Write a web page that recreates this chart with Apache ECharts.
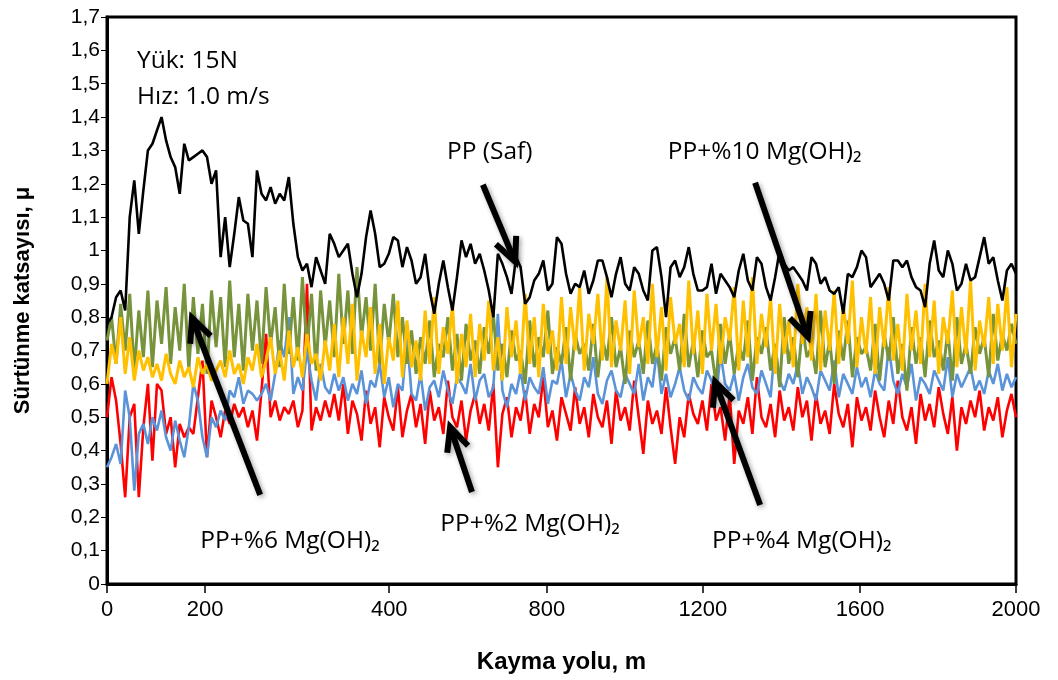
<!DOCTYPE html>
<html>
<head>
<meta charset="utf-8">
<script src="https://cdn.jsdelivr.net/npm/echarts@6/dist/echarts.min.js"></script>
<style>
  html, body { margin: 0; padding: 0; background: #fff; }
  #chart { width: 1058px; height: 680px; }
</style>
</head>
<body>
<div id="chart"></div>
<script>
// x-axis: labels sit at uneven places along the axis (as in the original figure)
var xTickPos = [0, 216, 621, 968, 1311, 1657, 2000];
var xTickLabels = ['0', '200', '400', '800', '1200', '1600', '2000'];
var sampleStep = 10; // axis units between two samples

// PP (Saf)
var ppSaf = [
  0.78,0.80,0.86,0.88,0.82,1.10,1.21,1.05,1.18,1.30,
  1.32,1.36,1.40,1.33,1.28,1.25,1.17,1.32,1.27,1.28,
  1.29,1.30,1.28,1.20,1.24,0.98,1.10,0.95,1.05,1.16,
  1.09,1.08,0.98,1.24,1.17,1.15,1.19,1.14,1.17,1.15,
  1.22,1.08,0.98,0.94,0.96,0.89,0.98,0.94,0.90,1.05,
  1.02,0.98,1.00,1.02,0.93,0.86,0.93,1.04,1.12,1.05,
  0.95,0.96,0.99,1.04,1.03,0.95,1.01,0.97,0.90,0.92,
  0.99,0.88,0.81,0.90,0.97,0.89,0.82,0.92,1.03,0.98,
  1.02,0.96,0.99,0.94,0.88,0.80,0.99,0.96,0.92,0.87,
  0.98,0.95,0.84,0.86,0.91,0.93,0.97,0.88,0.90,1.04,
  1.02,0.93,0.87,0.90,0.89,0.94,0.87,0.91,0.97,0.97,
  0.92,0.86,0.93,0.98,0.90,0.88,0.95,0.93,0.88,0.85,
  1.00,1.01,0.92,0.80,0.95,0.97,0.92,0.95,1.01,0.93,
  0.88,0.88,0.89,0.96,0.87,0.93,0.91,0.89,0.86,0.94,
  0.99,0.91,0.88,0.98,0.96,0.89,0.85,0.92,1.00,0.96,
  0.94,0.95,0.93,0.91,0.88,0.98,0.96,0.90,0.92,0.88,
  0.87,0.89,0.81,0.93,0.92,0.95,1.00,0.98,0.89,0.91,
  0.93,0.90,0.85,0.97,0.97,0.95,0.97,0.92,0.89,0.88,
  0.83,0.96,1.03,0.94,0.92,1.00,0.96,0.88,0.90,0.96,
  0.91,0.92,0.98,1.04,0.96,0.98,0.91,0.85,0.94,0.96,
  0.93
];

// PP+%6 Mg(OH)2
var pp6 = [
  0.73,0.80,0.66,0.84,0.70,0.87,0.64,0.82,0.68,0.88,0.65,0.85,0.72,0.89,0.66,0.83,0.70,0.90,0.64,0.86,
  0.69,0.84,0.63,0.88,0.71,0.86,0.65,0.91,0.68,0.84,0.64,0.87,0.70,0.85,0.66,0.89,0.72,0.83,0.65,0.90,
  0.69,0.86,0.67,0.92,0.70,0.87,0.64,0.88,0.71,0.85,0.68,
  0.93,0.72,0.88,0.69,0.95,0.74,0.86,0.70,0.90,0.66,0.84,0.72,0.87,0.68,0.80,0.66,
  0.76,0.63,0.74,0.66,0.79,0.62,0.72,0.68,0.80,0.64,0.75,0.61,0.78,0.67,0.73,0.63,0.77,0.69,0.81,0.64,
  0.72,0.62,0.76,0.67,0.70,0.60,0.79,0.65,0.74,0.68,0.82,0.63,0.71,0.66,0.77,0.61,0.75,0.69,0.72,0.64,
  0.78,0.62,0.74,0.67,0.80,0.65,0.71,0.60,0.76,0.68,0.73,0.63,0.79,0.66,0.72,0.61,0.77,0.69,0.74,0.64,
  0.81,0.65,0.73,0.62,0.76,0.68,0.70,0.60,0.78,0.66,0.75,0.63,0.72,0.67,0.79,0.61,0.74,0.69,0.77,0.64,
  0.72,0.59,0.80,0.66,0.74,0.62,0.77,0.68,0.71,0.63,0.82,0.65,0.73,0.60,0.76,0.67,0.79,0.62,0.74,0.69,
  0.71,0.64,0.78,0.61,0.75,0.67,0.80,0.63,0.72,0.58,0.77,0.66,0.74,0.62,0.79,0.68,0.73,0.64,0.76,0.61,
  0.80,0.66,0.72,0.63,0.77,0.69,0.74,0.62,0.81,0.67,0.75,0.70,0.78,0.72
];

// PP+%10 Mg(OH)2
var pp10 = [
  0.60,0.72,0.66,0.80,0.63,0.74,0.61,0.70,0.64,0.68,0.62,
  0.66,0.61,0.69,0.63,0.60,0.67,0.62,0.65,0.59,0.68,0.63,0.66,0.61,0.64,0.67,0.62,0.70,0.63,0.66,0.60,
  0.68,0.64,0.72,0.62,0.67,
  0.74,0.63,0.70,0.61,0.76,0.65,0.71,0.62,0.75,0.66,0.69,0.61,0.73,0.64,0.78,
  0.62,0.80,0.66,0.84,0.61,0.76,0.68,0.83,0.63,0.78,0.60,0.74,0.67,0.85,0.62,0.79,0.65,0.73,0.61,0.82,
  0.66,0.86,0.63,0.77,0.69,0.84,0.60,0.75,0.65,0.81,0.62,0.78,0.67,0.85,0.64,0.74,0.61,0.83,0.68,0.79,
  0.63,0.87,0.66,0.80,0.62,0.84,0.69,0.76,0.64,0.86,
  0.66,0.83,0.70,0.89,0.64,0.81,0.72,0.87,0.67,0.92,0.65,0.79,0.70,0.85,0.63,0.88,0.71,0.80,0.66,0.90,
  0.68,0.83,0.64,0.86,0.72,0.78,0.65,0.91,0.69,0.82,0.63,0.87,0.70,0.84,0.66,0.80,0.73,0.89,0.64,0.85,
  0.68,0.92,0.66,0.81,0.71,0.86,0.63,0.84,0.69,0.79,0.65,0.90,0.72,0.83,0.67,0.87,0.64,0.82,0.70,0.88,
  0.66,0.84,0.72,0.91,0.65,0.80,0.69,0.86,0.63,0.83,0.71,0.89,0.67,0.78,0.64,0.87,0.70,0.82,0.66,0.90,
  0.68,0.85,0.63,0.80,0.72,0.88,0.65,0.83,0.69,0.91,0.64,0.79,0.71,0.86,0.66,0.84,0.70,0.89,0.65,0.81
];

// PP+%4 Mg(OH)2
var pp4 = [
  0.35,0.38,0.42,0.36,0.58,0.50,0.28,0.45,0.48,0.42,0.50,0.46,0.52,0.44,0.40,0.49,0.43,0.38,0.47,0.60,
  0.55,0.44,0.38,0.50,0.47,0.52,0.49,0.58,0.56,0.62,0.54,0.58,0.57,0.55,0.57,0.60,0.55,0.63,0.73,0.68,
  0.80,0.57,0.62,0.58,0.70,0.61,0.55,0.66,0.59,0.57,0.63,
  0.58,0.62,0.55,0.60,0.57,0.64,0.54,0.61,0.59,0.66,0.56,0.62,0.53,0.60,0.58,0.74,0.57,0.55,0.63,0.52,
  0.59,0.61,0.56,0.64,0.58,0.54,0.62,0.60,0.57,0.66,0.55,0.61,0.63,0.56,0.59,0.81,0.58,0.53,0.60,0.57,
  0.64,0.55,0.62,0.59,0.57,0.65,0.54,0.61,0.60,0.67,0.56,0.63,0.58,0.55,0.62,0.59,0.68,0.57,0.54,0.61,
  0.64,0.58,0.56,0.63,0.60,0.57,0.66,0.55,0.62,0.59,0.70,0.57,0.63,0.56,0.60,0.65,0.58,0.55,0.62,0.59,
  0.57,0.64,0.61,0.56,0.69,0.60,0.58,0.63,0.55,0.62,0.66,0.59,0.57,0.64,0.60,0.56,0.72,0.61,0.58,0.63,
  0.60,0.66,0.57,0.62,0.59,0.55,0.64,0.61,0.58,0.67,0.56,0.63,0.60,0.57,0.65,0.59,0.62,0.56,0.64,0.60,
  0.58,0.71,0.61,0.57,0.63,0.59,0.66,0.55,0.62,0.60,0.57,0.64,0.61,0.58,0.68,0.56,0.63,0.59,0.62,0.65,
  0.58,0.61,0.57,0.64,0.60,0.66,0.58,0.63,0.59,0.62
];

// PP+%2 Mg(OH)2
var pp2 = [
  0.50,0.62,0.55,0.42,0.26,0.50,0.54,0.26,0.47,0.60,0.37,0.60,0.58,0.45,0.50,0.35,0.48,0.44,0.47,0.45,
  0.56,0.67,0.38,0.55,0.50,0.44,0.52,0.48,0.54,0.50,0.53,0.47,0.52,0.43,0.58,0.75,0.50,0.55,0.49,0.53,
  0.51,0.55,0.47,0.52,0.90,0.46,0.53,0.49,0.55,0.50,0.57,
  0.49,0.60,0.45,0.55,0.51,0.43,0.58,0.48,0.53,0.41,0.56,0.50,0.46,0.59,0.44,0.52,0.57,0.47,0.54,0.42,
  0.58,0.49,0.53,0.45,0.61,0.50,0.47,0.55,0.43,0.52,0.57,0.48,0.54,0.46,0.60,0.35,0.51,0.56,0.44,0.53,
  0.49,0.58,0.45,0.54,0.50,0.62,0.47,0.52,0.43,0.56,0.51,0.46,0.59,0.48,0.53,0.44,0.57,0.50,0.47,0.55,
  0.42,0.58,0.49,0.53,0.46,0.61,0.50,0.39,0.55,0.48,0.52,0.45,0.59,0.47,0.36,0.50,0.44,0.57,0.51,0.48,
  0.55,0.46,0.60,0.49,0.53,0.43,0.57,0.36,0.52,0.48,0.56,0.45,0.62,0.50,0.47,0.54,0.44,0.58,0.49,0.53,
  0.46,0.59,0.50,0.55,0.43,0.57,0.48,0.52,0.45,0.60,0.51,0.47,0.54,0.41,0.56,0.49,0.53,0.46,0.58,0.50,
  0.44,0.55,0.48,0.61,0.50,0.46,0.53,0.42,0.57,0.49,0.54,0.47,0.59,0.51,0.45,0.56,0.40,0.53,0.48,0.55,
  0.50,0.58,0.46,0.53,0.49,0.56,0.44,0.52,0.57,0.50
];

// annotations, in axis coordinates [x, y]
var arrows = [
  { tail: [827, 1.197], tip: [898, 0.966] },
  { tail: [1426, 1.203], tip: [1542, 0.741] },
  { tail: [337, 0.267], tip: [187, 0.798] },
  { tail: [803, 0.276], tip: [755, 0.471] },
  { tail: [1437, 0.237], tip: [1338, 0.606] }
];
var notes = [
  { text: 'Yük: 15N', at: [66, 1.569] },
  { text: 'Hız: 1.0 m/s', at: [66, 1.461] },
  { text: 'PP (Saf)', at: [748, 1.296] },
  { text: 'PP+%10 Mg(OH)₂', at: [1234, 1.296] },
  { text: 'PP+%6 Mg(OH)₂', at: [205, 0.129] },
  { text: 'PP+%2 Mg(OH)₂', at: [733, 0.180] },
  { text: 'PP+%4 Mg(OH)₂', at: [1331, 0.129] }
];

function toPairs(arr) {
  return arr.map(function (v, i) { return [i * sampleStep, v]; });
}

function line(name, arr, color, w) {
  return {
    name: name,
    type: 'line',
    data: toPairs(arr),
    showSymbol: false,
    symbol: 'none',
    lineStyle: { color: color, width: w },
    itemStyle: { color: color }
  };
}

var chart = echarts.init(document.getElementById('chart'));
var option = {
  animation: false,
  backgroundColor: '#fff',
  grid: {
    left: 107, right: 42, top: 17, bottom: 96,
    show: true, borderColor: '#000', borderWidth: 3
  },
  xAxis: {
    type: 'value',
    min: 0, max: 2000,
    name: 'Kayma yolu, m',
    nameLocation: 'middle',
    nameGap: 66,
    nameTextStyle: { fontFamily: 'Liberation Sans Narrow, Liberation Sans', fontWeight: 'bold', fontSize: 24, color: '#000' },
    axisLine: { lineStyle: { color: '#000', width: 3 } },
    axisTick: { show: true, customValues: xTickPos, length: 9, lineStyle: { color: '#000', width: 1.5 } },
    axisLabel: {
      customValues: xTickPos,
      margin: 15,
      fontFamily: 'Liberation Sans Narrow, Liberation Sans',
      fontSize: 22,
      color: '#000',
      formatter: function (v) {
        var k = xTickPos.indexOf(v);
        return k >= 0 ? xTickLabels[k] : '';
      }
    },
    splitLine: { show: false }
  },
  yAxis: {
    type: 'value',
    min: 0, max: 1.7, interval: 0.1,
    name: 'Sürtünme katsayısı, μ',
    nameLocation: 'middle',
    nameGap: 73,
    nameTextStyle: { fontFamily: 'Liberation Sans', fontWeight: 'bold', fontSize: 22, color: '#000' },
    axisLine: { show: true, lineStyle: { color: '#000', width: 3 } },
    axisTick: { show: true, length: 6, lineStyle: { color: '#000', width: 1 } },
    axisLabel: {
      fontFamily: 'Liberation Sans',
      fontSize: 21,
      color: '#000',
      margin: 7,
      formatter: function (v) {
        var r = Math.round(v * 10) / 10;
        return (r % 1 === 0) ? String(r) : r.toFixed(1).replace('.', ',');
      }
    },
    splitLine: { show: false }
  },
  series: [
    line('PP+%2 Mg(OH)₂', pp2, '#ff0000', 2.6),
    line('PP+%4 Mg(OH)₂', pp4, '#5b93d8', 2.6),
    line('PP+%6 Mg(OH)₂', pp6, '#77933c', 3),
    line('PP+%10 Mg(OH)₂', pp10, '#ffc000', 3),
    line('PP (Saf)', ppSaf, '#000000', 2.6)
  ]
};
chart.setOption(option);

// arrows and texts
var els = [];
arrows.forEach(function (a) {
  var t = chart.convertToPixel({ gridIndex: 0 }, a.tail);
  var p = chart.convertToPixel({ gridIndex: 0 }, a.tip);
  var ang = Math.atan2(t[1] - p[1], t[0] - p[0]);
  var L = 26, da = 25 * Math.PI / 180;
  var a1 = [p[0] + L * Math.cos(ang + da), p[1] + L * Math.sin(ang + da)];
  var a2 = [p[0] + L * Math.cos(ang - da), p[1] + L * Math.sin(ang - da)];
  var st = { stroke: '#000', lineWidth: 6, fill: null, shadowBlur: 5, shadowColor: 'rgba(0,0,0,0.35)', shadowOffsetX: 2, shadowOffsetY: 2 };
  els.push({ type: 'polyline', z: 100, shape: { points: [t, p] }, style: st });
  els.push({ type: 'polyline', z: 100, shape: { points: [a1, p, a2] }, style: Object.assign({}, st, { lineJoin: 'miter' }) });
});
notes.forEach(function (n) {
  var q = chart.convertToPixel({ gridIndex: 0 }, n.at);
  els.push({
    type: 'text', z: 100, x: q[0], y: q[1],
    style: { text: n.text, fontFamily: 'Open Sans', fontSize: 24.5, fill: '#000', align: 'left', verticalAlign: 'middle' }
  });
});
chart.setOption({ graphic: els });
</script>
</body>
</html>
